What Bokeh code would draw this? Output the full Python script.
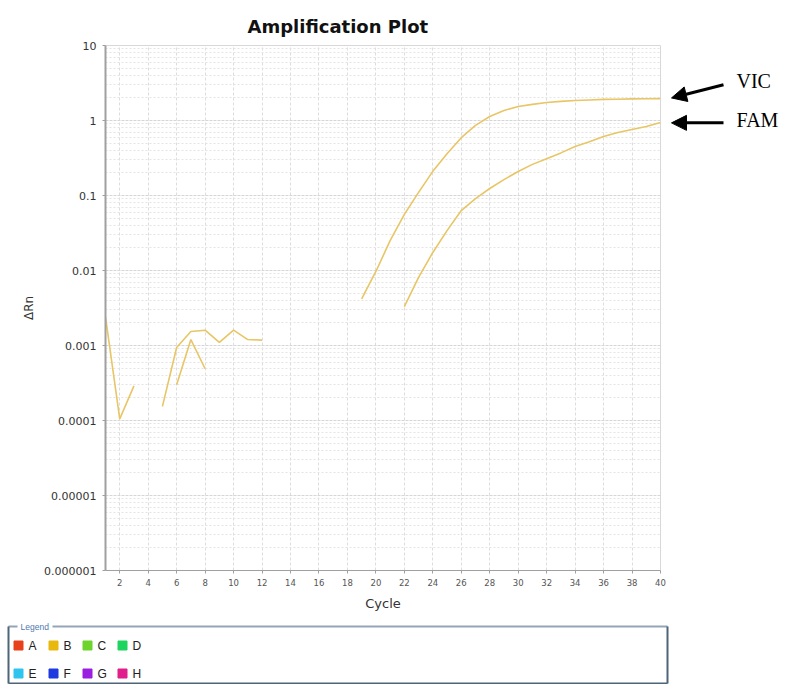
import math
from bokeh.plotting import figure
from bokeh.models import (FixedTicker, CustomJSTickFormatter, Range1d, Label,
                          Arrow, NormalHead)
from bokeh.layouts import column, row
from bokeh.embed import file_html
from bokeh.resources import INLINE
from bokeh.core.properties import value

nan = float("nan")

# ---------------- data ----------------
cycles = list(range(1, 41))
# ΔRn per cycle (nan = not plotted)
vic = [0.0024, 0.000105, 0.00029, nan, 0.000154, 0.00094, 0.00154, 0.0016,
       0.0011, 0.0016, 0.0012, 0.00118, nan, nan, nan, nan, nan, nan,
       0.0042, 0.0097, 0.025, 0.056, 0.11, 0.21, 0.36, 0.59, 0.86, 1.13,
       1.36, 1.54, 1.64, 1.74, 1.80, 1.85, 1.88, 1.91, 1.92, 1.94, 1.95, 1.96]
fam = [nan, nan, nan, nan, nan, 0.0003, 0.0012, 0.00049, nan, nan, nan, nan,
       nan, nan, nan, nan, nan, nan, nan, nan, nan,
       0.0033, 0.0081, 0.0174, 0.034, 0.063, 0.091, 0.124, 0.163, 0.209,
       0.26, 0.31, 0.37, 0.45, 0.52, 0.61, 0.69, 0.76, 0.83, 0.94]

x_ticks = list(range(2, 41, 2))
y_decades = [1e-6, 1e-5, 1e-4, 1e-3, 1e-2, 1e-1, 1, 10]
y_tick_labels = ["0.000001", "0.00001", "0.0001", "0.001", "0.01", "0.1", "1", "10"]

legend_labels = ["A", "B", "C", "D", "E", "F", "G", "H"]
legend_colors = ["#e8401c", "#e8b90c", "#6cd42a", "#1ed45e",
                 "#2ec4ee", "#1f3be0", "#9b1fe0", "#e01e8c"]

LINE = "#e8c565"
FONT = "DejaVu Sans"

# ---------------- main plot ----------------
p = figure(width=670, height=620, x_range=Range1d(1, 40),
           y_range=Range1d(1e-6, 10), y_axis_type="log",
           output_backend="svg", toolbar_location=None,
           min_border_left=105, min_border_right=10,
           min_border_top=45, min_border_bottom=50)

p.title.text = "Amplification Plot"
p.title.text_font = FONT
p.title.text_font_size = "18px"
p.title.text_font_style = "bold"
p.title.text_color = "#111111"
p.title.align = "left"
p.title.offset = 142
p.title.standoff = 17

p.line(cycles, vic, line_color=LINE, line_width=1.6)
p.line(cycles, fam, line_color=LINE, line_width=1.6)

minor = [m * d for d in y_decades[:-1] for m in range(2, 10)]
p.yaxis.ticker = FixedTicker(ticks=y_decades, minor_ticks=minor)
p.yaxis.formatter = CustomJSTickFormatter(
    args=dict(labels=y_tick_labels),
    code="return labels[Math.round(Math.log10(tick)) + 6];")
p.xaxis.ticker = FixedTicker(ticks=x_ticks)

p.xaxis.axis_label = "Cycle"
p.yaxis.axis_label = "ΔRn"
for ax in (p.xaxis, p.yaxis):
    ax.axis_label_text_font = FONT
    ax.axis_label_text_font_style = "normal"
    ax.axis_label_text_color = "#333333"
    ax.major_label_text_font = FONT
    ax.major_label_text_color = "#333333"
    ax.axis_line_color = "#a0a0a0"
    ax.major_tick_line_color = "#a0a0a0"
    ax.major_tick_out = 3
    ax.major_tick_in = 0
    ax.minor_tick_line_color = None
p.xaxis.axis_label_text_font_size = "13px"
p.yaxis.axis_label_text_font_size = "12px"
p.yaxis.axis_line_width = 2
p.yaxis.major_label_text_font_size = "11px"
p.xaxis.major_label_text_font_size = "8.5px"
p.xaxis.major_label_text_color = "#555555"
p.yaxis.major_label_standoff = 5
p.xaxis.major_label_standoff = 5
p.yaxis.axis_label_standoff = 5
p.xaxis.axis_label_standoff = 7

p.xgrid.grid_line_color = "#dddddd"
p.xgrid.grid_line_dash = "3 2"
p.ygrid.grid_line_color = "#d6d6d6"
p.ygrid.grid_line_dash = "3 1"
p.ygrid.minor_grid_line_color = "#e4e4e4"
p.ygrid.minor_grid_line_dash = "2 2"
p.outline_line_color = "#d8d8d8"

# ---------------- right-hand annotation strip (shares the ΔRn scale) ----------------
r = figure(width=118, height=620, x_range=Range1d(0, 118), y_range=p.y_range,
           y_axis_type="log", output_backend="svg", toolbar_location=None,
           x_axis_location=None, y_axis_location=None,
           min_border_left=0, min_border_right=0,
           min_border_top=45, min_border_bottom=50)
r.grid.visible = False
r.outline_line_color = None

head = dict(size=15, fill_color="black", line_color="black")
r.add_layout(Arrow(end=NormalHead(**head), x_start=53, y_start=3.0,
                   x_end=1, y_end=2.0, line_width=3, line_color="black"))
r.add_layout(Arrow(end=NormalHead(**head), x_start=53, y_start=0.93,
                   x_end=1, y_end=0.93, line_width=3, line_color="black"))
r.add_layout(Label(x=66, y=3.4, text="VIC", text_font="Liberation Serif",
                   text_font_size="20px", text_baseline="middle",
                   text_color="black"))
r.add_layout(Label(x=66, y=1.03, text="FAM", text_font="Liberation Serif",
                   text_font_size="20px", text_baseline="middle",
                   text_color="black"))

# ---------------- legend panel ----------------
q = figure(width=788, height=64, x_range=Range1d(0, 788), y_range=Range1d(64, 0),
           output_backend="svg", toolbar_location=None,
           x_axis_location=None, y_axis_location=None, min_border=0)
q.grid.visible = False
q.outline_line_color = None

q.segment(x0=[8, 52], y0=[6, 6], x1=[17, 667], y1=[6, 6],
          line_color="#93a5b6", line_width=2)
q.segment(x0=[8, 667, 8], y0=[6, 6, 63], x1=[8, 667, 667], y1=[63, 63, 63],
          line_color="#4e6479", line_width=2)
q.text(x=[20], y=[6], text=["Legend"], text_font=value("Liberation Sans"),
       text_font_size="8.5px", text_color="#4f79b3", text_baseline="middle")

col_x = [18, 53, 87, 122]
row_y = [25, 53]
sq_x = [col_x[i % 4] for i in range(len(legend_labels))]
sq_y = [row_y[i // 4] for i in range(len(legend_labels))]
q.rect(x=sq_x, y=sq_y, width=9, height=9, fill_color=legend_colors,
       line_color=legend_colors)
q.text(x=[x + 10 for x in sq_x], y=sq_y, text=legend_labels,
       text_font=value("Liberation Sans"), text_font_size="12px",
       text_color="#222222", text_baseline="middle")

layout = column(row(p, r, spacing=0), q, spacing=0)
open("out.html", "w").write(file_html(layout, INLINE))
